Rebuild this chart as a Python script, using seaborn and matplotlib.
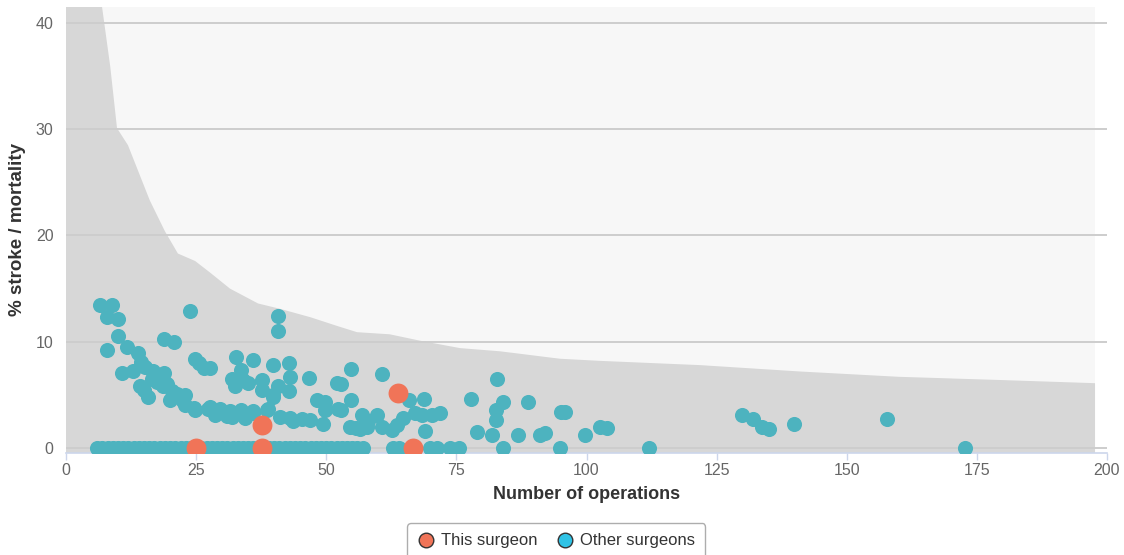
import matplotlib
matplotlib.use("Agg")
import matplotlib.pyplot as plt
from matplotlib.lines import Line2D
import seaborn as sns

# --- data ---
# funnel upper limit (dark band)
funnel_x = [0, 6.9, 8.5, 9.8, 11.9, 16.1, 19.0, 21.5, 24.8, 27.7, 31.5, 36.9, 41.1,
            47.0, 52.0, 55.9, 62.2, 68.0, 75.7, 83.4, 94.9, 102.6, 121.8, 141.0,
            160.0, 179.4, 197.7]
funnel_y = [100, 41.6, 35.9, 30.1, 28.5, 23.3, 20.4, 18.3, 17.6, 16.5, 15.0, 13.6, 13.1,
            12.3, 11.5, 10.9, 10.7, 10.1, 9.4, 9.1, 8.4, 8.2, 7.8, 7.2,
            6.7, 6.4, 6.1]

# surgeons with zero events
zero_x = [6, 7, 8, 9, 10, 11, 12, 13, 14, 15, 16, 17, 18, 19, 20, 21, 22, 23, 24, 26,
          27, 28, 29, 30, 31, 32, 33, 34, 35, 36, 37, 38, 39, 40, 41, 42, 43, 44, 45,
          46, 47, 48, 49, 50, 51, 52, 53, 54, 55, 56, 57, 62.8, 64, 70, 71.2, 73.8,
          75.6, 84, 95, 112, 172.7]
zero_y = [0, 0, 0, 0, 0, 0, 0, 0, 0, 0, 0, 0, 0, 0, 0, 0, 0, 0, 0, 0,
          0, 0, 0, 0, 0, 0, 0, 0, 0, 0, 0, 0, 0, 0, 0, 0, 0, 0, 0,
          0, 0, 0, 0, 0, 0, 0, 0, 0, 0, 0, 0, 0, 0, 0, 0, 0,
          0, 0, 0, 0, 0]

# other surgeons with events
other_x = [6.5, 8.9, 7.8, 9.9, 23.8, 9.9, 7.8, 11.7, 18.8, 20.8, 13.8, 24.8, 25.6, 26.5,
           10.7, 12.9, 14.5, 15.2, 16.8, 18.9, 16.5, 14.2, 14.9, 15.8, 18.7, 20.3, 20.0,
           21.3, 22.9, 22.9, 22.5, 24.5, 24.8, 27.3, 17.5, 19.5,
           40.8, 40.8, 32.7, 35.9, 39.7, 42.9, 27.7, 33.7, 31.8, 34.1, 32.5, 35.0, 37.6,
           37.6, 43.0, 46.7, 40.8, 42.9, 39.8, 39.8, 52.0, 48.2, 49.8, 49.8, 52.3, 27.7,
           28.6, 29.6, 31.5, 31.8, 33.7, 34.4, 35.9, 38.8, 41.1, 43.0, 43.6, 45.3, 46.9,
           49.4, 30.9, 36.0, 38.6,
           54.8, 60.8, 52.8, 54.8, 52.8, 56.8, 59.7, 65.9, 68.8, 64.8, 67.0, 68.3, 70.3,
           71.9, 69.0, 54.6, 55.8, 57.8, 60.7, 62.6, 58.1, 63.5, 56.5,
           82.9, 77.8, 83.9, 82.7, 82.7, 88.8, 95.1, 95.9, 78.9, 81.8, 86.8, 91.1, 92.0,
           99.8, 102.6, 103.9,
           129.8, 131.9, 133.8, 135.1, 139.9, 157.8]
other_y = [13.5, 13.5, 12.3, 12.1, 12.9, 10.5, 9.2, 9.5, 10.3, 10.0, 8.9, 8.4, 8.0, 7.5,
           7.1, 7.2, 8.1, 7.6, 7.2, 7.1, 6.5, 5.8, 5.5, 4.8, 5.8, 5.4, 4.5,
           5.1, 5.0, 4.0, 4.4, 3.8, 3.6, 3.7, 6.2, 6.0,
           12.4, 11.0, 8.6, 8.3, 7.8, 8.0, 7.5, 7.3, 6.5, 6.4, 5.8, 6.1, 6.4,
           5.5, 6.7, 6.6, 5.8, 5.4, 5.0, 4.8, 6.1, 4.5, 4.3, 3.6, 3.7, 3.9,
           3.1, 3.7, 3.5, 2.95, 3.6, 2.8, 3.5, 3.7, 2.95, 2.8, 2.5, 2.7, 2.6,
           2.3, 3.0, 3.3, 3.6,
           7.4, 7.0, 6.0, 4.5, 3.6, 3.1, 3.1, 4.5, 4.6, 2.8, 3.3, 3.1, 3.1,
           3.3, 1.6, 2.0, 1.9, 2.0, 2.0, 1.7, 2.5, 2.2, 1.8,
           6.5, 4.6, 4.3, 3.6, 2.6, 4.3, 3.4, 3.4, 1.5, 1.2, 1.2, 1.2, 1.4,
           1.2, 2.0, 1.9,
           3.1, 2.7, 2.0, 1.8, 2.3, 2.7]

# this surgeon
this_x = [25.0, 37.7, 37.6, 63.8, 66.7]
this_y = [0.0, 0.0, 2.15, 5.2, 0.0]

x_ticks = [0, 25, 50, 75, 100, 125, 150, 175, 200]
y_ticks = [0, 10, 20, 30, 40]

TEAL = "#4db3bf"
CORAL = "#f07458"
LEGEND_CYAN = "#2fc3e6"

sns.set_theme(style="white")
plt.rcParams["font.family"] = ["Liberation Sans", "DejaVu Sans"]

W, H = 1124, 555
fig = plt.figure(figsize=(W / 100, H / 100), dpi=100)
ax_w_px = 1107 - 66
ax = fig.add_axes([66 / W, 1 - 453 / H, ax_w_px / W, (453 - 7) / H])

y_lo, y_hi = -0.47, 41.5

# background regions
ax.fill_between([funnel_x[0], funnel_x[-1]], y_lo, y_hi, color="#f7f7f7", lw=0, zorder=0.5)
ax.fill_between(funnel_x, y_lo, funnel_y, color="#d7d7d7", lw=0, zorder=0.6)

sns.scatterplot(x=zero_x + other_x, y=zero_y + other_y, color=TEAL, s=118,
                linewidth=0, ax=ax, zorder=3, legend=False)
sns.scatterplot(x=this_x, y=this_y, color=CORAL, s=205,
                linewidth=0, ax=ax, zorder=4, legend=False)

ax.set_xlim(0, 200)
ax.set_ylim(y_lo, y_hi)
ax.set_xticks(x_ticks)
ax.set_yticks(y_ticks)
ax.set_axisbelow("line")
ax.yaxis.grid(True, color="#cdcdcd", lw=1.4)
ax.xaxis.grid(False)

for s in ["top", "right", "left"]:
    ax.spines[s].set_visible(False)
ax.spines["bottom"].set_color("#ccd6eb")
ax.spines["bottom"].set_linewidth(1.2)

ax.tick_params(axis="x", length=5, width=1, color="#ccd6eb", pad=2,
               labelsize=11.5, labelcolor="#666666", direction="out", bottom=True)
ax.tick_params(axis="y", length=0, pad=9, labelsize=11.5, labelcolor="#666666", left=True)

ax.set_xlabel("Number of operations", fontsize=13, fontweight="bold", color="#333333", labelpad=6)
ax.set_ylabel("% stroke / mortality", fontsize=13.5, fontweight="bold", color="#333333")
ax.yaxis.set_label_coords(-(66 - 26) / ax_w_px, 0.5)

handles = [
    Line2D([], [], marker="o", ls="", markersize=10.5, markerfacecolor=CORAL,
           markeredgecolor="#333333", markeredgewidth=1, label="This surgeon"),
    Line2D([], [], marker="o", ls="", markersize=10.5, markerfacecolor=LEGEND_CYAN,
           markeredgecolor="#333333", markeredgewidth=1, label="Other surgeons"),
]
leg = fig.legend(handles=handles, loc="upper center", bbox_to_anchor=(0.495, 1 - 515 / H),
                 ncol=2, frameon=True, fancybox=True, fontsize=12, handlelength=1,
                 handletextpad=0.4, columnspacing=1.2, borderpad=0.6)
leg.get_frame().set_edgecolor("#999999")
leg.get_frame().set_linewidth(1)
for t in leg.get_texts():
    t.set_color("#333333")

fig.savefig("out.png", dpi=100)
